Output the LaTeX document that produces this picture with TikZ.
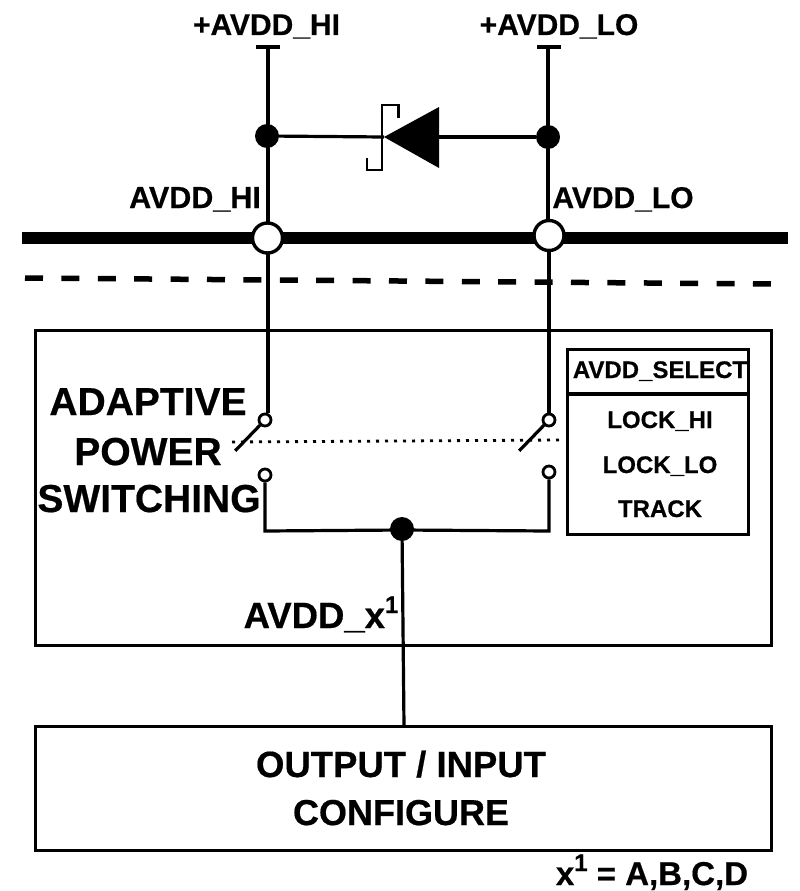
\documentclass[tikz,border=0pt]{standalone}
\usepackage{fontspec}
\setmainfont{Liberation Sans}[BoldFeatures={FakeBold=0.5}]
\usetikzlibrary{calc}
\newcommand{\fsz}[1]{\fontsize{#1}{#1}\selectfont\bfseries}
\newcommand{\supone}[1]{\raisebox{#1}{\fontsize{24}{24}\selectfont\bfseries 1}}
\tikzset{
  wire/.style={line width=3.2pt,black},
  box/.style={draw=black,line width=3pt,fill=none,rectangle,inner sep=0pt,outer sep=0pt,anchor=north west},
  jdot/.style={circle,fill=black,draw=none,minimum size=24pt,inner sep=0pt},
  pad/.style={circle,fill=white,draw=black,line width=3.4pt,minimum size=30pt,inner sep=0pt},
  sw/.style={circle,fill=white,draw=black,line width=2.8pt,minimum size=12pt,inner sep=0pt},
  lbl/.style={inner sep=0pt,anchor=base,text=black},
  pt/.style={inner sep=0pt,minimum size=0pt},
}
\begin{document}
\begin{tikzpicture}[x=1pt,y=-1pt]
\useasboundingbox (0,0) rectangle (800,891);
% boxes
\node[box,minimum width=736pt,minimum height=315pt] (core) at (35,330) {};
\node[box,minimum width=181pt,minimum height=185pt] (sel) at (567,349) {};
\node[box,minimum width=736pt,minimum height=124pt] (cfg) at (35,726) {};
\coordinate (sepL) at (567,394);
\coordinate (sepR) at (748,394);
\draw[wire] (sepL) -- (sepR);
% rails
\coordinate (railL) at (22,238);
\coordinate (railR) at (788,238);
\draw[line width=12pt] (railL) -- (railR);
\coordinate (dashL) at (25,278);
\coordinate (dashR) at (772,284);
\draw[line width=5.5pt,dash pattern=on 18pt off 18.4pt] (dashL) -- (dashR);
% coordinates
\coordinate (topL) at (268,47);
\coordinate (topR) at (548,47);
\coordinate (tickL1) at (256,47);
\coordinate (tickL2) at (280,47);
\coordinate (tickR1) at (537,47);
\coordinate (tickR2) at (561,47);
\node[sw] (swL1) at (265,420) {};
\node[sw] (swR1) at (549,420) {};
\node[sw] (swL2) at (265,475) {};
\node[sw] (swR2) at (549,472) {};
\node[pt] (leverL) at (235,451) {};
\node[pt] (leverR) at (519,451) {};
\coordinate (dotL) at (232,442);
\coordinate (dotR) at (562,440);
\coordinate (cornL) at (265,531);
\coordinate (cornR) at (549,531);
% wires
\draw[wire] (tickL1) -- (tickL2);
\draw[wire] (tickR1) -- (tickR2);
\draw[wire] (topL) -- (268,225);
\draw[wire] (topR) -- (548,225);
\draw[wire] (268,250) -- (268,413);
\draw[wire] (549,252) -- (549,413);
\draw[line width=2.8pt,dash pattern=on 3pt off 6pt] (dotL) -- (dotR);
\draw[wire] (swL1) -- (leverL);
\draw[wire] (swR1) -- (leverR);
\draw[wire,line join=miter] (swL2) -- (cornL) -- (402,530) -- (cornR) -- (swR2);
% diode
\node[jdot] (jL) at (267,136) {};
\node[jdot] (jR) at (548,137) {};
\coordinate (tip) at (384,137);
\coordinate (baseT) at (439,107);
\coordinate (baseB) at (439,168);
\coordinate (baseM) at (439,137);
\draw[wire] (jL) -- (tip);
\draw[wire] (baseM) -- (jR);
\fill (tip) -- (baseT) -- (baseB) -- cycle;
\draw[line width=2.6pt] (398.5,117.5) -- (398.5,105) -- (382,105) -- (382,170) -- (367,170) -- (367,158);
% pads
\node[pad] (padL) at (267.5,238) {};
\node[pad] (padR) at (549,235.5) {};
% center junction
\node[jdot] (jC) at (402,529) {};
\draw[wire] (jC) -- (404,726);
% labels
\node[lbl,font=\fsz{30}] (t1) at (266.5,35) {+AVDD\_HI};
\node[lbl,font=\fsz{30}] (t2) at (559,35) {+AVDD\_LO};
\node[lbl,font=\fsz{30.5}] (t3) at (195,208) {AVDD\_HI};
\node[lbl,font=\fsz{30}] (t4) at (623,208) {AVDD\_LO};
\node[lbl,font=\fsz{39}] (t5) at (148,415) {ADAPTIVE};
\node[lbl,font=\fsz{39}] (t6) at (148,465) {POWER};
\node[lbl,font=\fsz{39}] (t7) at (149,512) {SWITCHING};
\node[lbl,font=\fsz{24}] (t8) at (660,378) {AVDD\_SELECT};
\node[lbl,font=\fsz{24}] (t9) at (660,428) {LOCK\_HI};
\node[lbl,font=\fsz{24}] (t10) at (660,473) {LOCK\_LO};
\node[lbl,font=\fsz{24}] (t11) at (660,517) {TRACK};
\node[lbl,font=\fsz{36.5}] (t12) at (321,628) {AVDD\_x\supone{15pt}};
\node[lbl,font=\fsz{36.5}] (t13) at (401,777) {OUTPUT / INPUT};
\node[lbl,font=\fsz{36}] (t14) at (401,825) {CONFIGURE};
\node[lbl,font=\fsz{33}] (t15) at (652,885) {x\supone{14pt} = A,B,C,D};
\end{tikzpicture}
\end{document}
